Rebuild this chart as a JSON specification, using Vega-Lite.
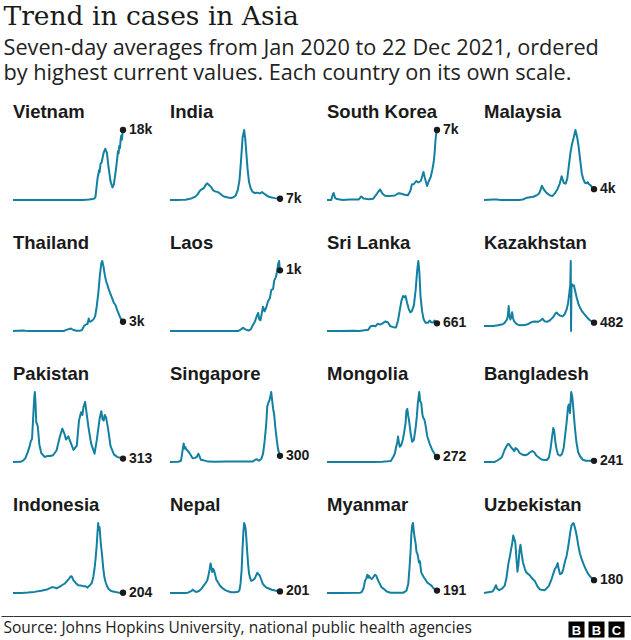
{
  "$schema": "https://vega.github.io/schema/vega-lite/v6.json",
  "background": "white",
  "padding": {"left": 0, "right": 0, "top": 4, "bottom": 0},
  "config": {"view": {"stroke": null}, "font": "Liberation Sans"},
  "title": {
    "text": "Trend in cases in Asia",
    "subtitle": ["Seven-day averages from Jan 2020 to 22 Dec 2021, ordered", "by highest current values. Each country on its own scale."],
    "anchor": "start", "dx": 3,
    "font": "DejaVu Serif", "fontSize": 26.5, "fontWeight": "normal", "color": "#1a1a1a",
    "subtitleFont": "Open Sans", "subtitleFontSize": 21.7, "subtitleColor": "#222222", "subtitleLineHeight": 25, "subtitlePadding": 7,
    "offset": 18
  },
  "datasets": {
    "cases": [
      {"c":"Vietnam","d":"2020-01-22","v":0},{"c":"Vietnam","d":"2020-03-20","v":5},{"c":"Vietnam","d":"2020-07-31","v":30},{"c":"Vietnam","d":"2020-10-15","v":5},{"c":"Vietnam","d":"2021-02-01","v":30},{"c":"Vietnam","d":"2021-04-11","v":10},{"c":"Vietnam","d":"2021-05-19","v":120},{"c":"Vietnam","d":"2021-06-12","v":250},{"c":"Vietnam","d":"2021-06-22","v":350},{"c":"Vietnam","d":"2021-06-30","v":800},{"c":"Vietnam","d":"2021-07-09","v":4200},{"c":"Vietnam","d":"2021-07-14","v":5800},{"c":"Vietnam","d":"2021-07-18","v":6500},{"c":"Vietnam","d":"2021-07-22","v":7600},{"c":"Vietnam","d":"2021-07-26","v":7100},{"c":"Vietnam","d":"2021-08-01","v":9300},{"c":"Vietnam","d":"2021-08-08","v":9600},{"c":"Vietnam","d":"2021-08-14","v":10800},{"c":"Vietnam","d":"2021-08-21","v":12100},{"c":"Vietnam","d":"2021-08-31","v":13100},{"c":"Vietnam","d":"2021-09-11","v":12000},{"c":"Vietnam","d":"2021-09-20","v":8700},{"c":"Vietnam","d":"2021-10-03","v":4900},{"c":"Vietnam","d":"2021-10-16","v":3200},{"c":"Vietnam","d":"2021-10-25","v":4000},{"c":"Vietnam","d":"2021-11-07","v":7800},{"c":"Vietnam","d":"2021-11-15","v":10500},{"c":"Vietnam","d":"2021-11-20","v":12500},{"c":"Vietnam","d":"2021-11-24","v":11900},{"c":"Vietnam","d":"2021-11-28","v":13800},{"c":"Vietnam","d":"2021-12-03","v":13300},{"c":"Vietnam","d":"2021-12-07","v":15500},{"c":"Vietnam","d":"2021-12-11","v":16500},{"c":"Vietnam","d":"2021-12-15","v":15400},{"c":"Vietnam","d":"2021-12-19","v":17000},{"c":"Vietnam","d":"2021-12-22","v":17900,"label":"18k"},
      {"c":"India","d":"2020-01-22","v":0},{"c":"India","d":"2020-03-15","v":10},{"c":"India","d":"2020-04-10","v":700},{"c":"India","d":"2020-05-01","v":2000},{"c":"India","d":"2020-05-20","v":5000},{"c":"India","d":"2020-06-10","v":10000},{"c":"India","d":"2020-07-01","v":19000},{"c":"India","d":"2020-07-15","v":30000},{"c":"India","d":"2020-07-27","v":48000},{"c":"India","d":"2020-08-10","v":60000},{"c":"India","d":"2020-08-25","v":67000},{"c":"India","d":"2020-09-05","v":85000},{"c":"India","d":"2020-09-16","v":93000},{"c":"India","d":"2020-09-28","v":82000},{"c":"India","d":"2020-10-10","v":72000},{"c":"India","d":"2020-10-25","v":52000},{"c":"India","d":"2020-11-08","v":47000},{"c":"India","d":"2020-11-22","v":44000},{"c":"India","d":"2020-12-05","v":36000},{"c":"India","d":"2020-12-20","v":25000},{"c":"India","d":"2021-01-05","v":18000},{"c":"India","d":"2021-01-25","v":14000},{"c":"India","d":"2021-02-12","v":11000},{"c":"India","d":"2021-03-01","v":15000},{"c":"India","d":"2021-03-15","v":25000},{"c":"India","d":"2021-03-28","v":55000},{"c":"India","d":"2021-04-08","v":110000},{"c":"India","d":"2021-04-18","v":220000},{"c":"India","d":"2021-04-28","v":350000},{"c":"India","d":"2021-05-08","v":391000},{"c":"India","d":"2021-05-15","v":340000},{"c":"India","d":"2021-05-22","v":260000},{"c":"India","d":"2021-05-30","v":170000},{"c":"India","d":"2021-06-08","v":100000},{"c":"India","d":"2021-06-18","v":65000},{"c":"India","d":"2021-07-01","v":45000},{"c":"India","d":"2021-07-15","v":39000},{"c":"India","d":"2021-07-30","v":41000},{"c":"India","d":"2021-08-15","v":37000},{"c":"India","d":"2021-08-30","v":44000},{"c":"India","d":"2021-09-08","v":38000},{"c":"India","d":"2021-09-25","v":27000},{"c":"India","d":"2021-10-12","v":18000},{"c":"India","d":"2021-10-30","v":14000},{"c":"India","d":"2021-11-20","v":10500},{"c":"India","d":"2021-12-05","v":8500},{"c":"India","d":"2021-12-22","v":7000,"label":"7k"},
      {"c":"South Korea","d":"2020-01-22","v":0},{"c":"South Korea","d":"2020-02-18","v":10},{"c":"South Korea","d":"2020-02-27","v":500},{"c":"South Korea","d":"2020-03-04","v":700},{"c":"South Korea","d":"2020-03-14","v":200},{"c":"South Korea","d":"2020-03-25","v":90},{"c":"South Korea","d":"2020-05-01","v":10},{"c":"South Korea","d":"2020-06-15","v":45},{"c":"South Korea","d":"2020-08-10","v":40},{"c":"South Korea","d":"2020-08-27","v":350},{"c":"South Korea","d":"2020-09-10","v":150},{"c":"South Korea","d":"2020-10-15","v":70},{"c":"South Korea","d":"2020-11-10","v":120},{"c":"South Korea","d":"2020-11-28","v":480},{"c":"South Korea","d":"2020-12-12","v":800},{"c":"South Korea","d":"2020-12-25","v":1050},{"c":"South Korea","d":"2021-01-08","v":650},{"c":"South Korea","d":"2021-01-25","v":420},{"c":"South Korea","d":"2021-02-15","v":400},{"c":"South Korea","d":"2021-03-10","v":420},{"c":"South Korea","d":"2021-03-28","v":450},{"c":"South Korea","d":"2021-04-22","v":680},{"c":"South Korea","d":"2021-05-10","v":620},{"c":"South Korea","d":"2021-05-30","v":530},{"c":"South Korea","d":"2021-06-20","v":480},{"c":"South Korea","d":"2021-07-05","v":900},{"c":"South Korea","d":"2021-07-15","v":1550},{"c":"South Korea","d":"2021-07-28","v":1600},{"c":"South Korea","d":"2021-08-12","v":1900},{"c":"South Korea","d":"2021-08-25","v":1750},{"c":"South Korea","d":"2021-09-10","v":1900},{"c":"South Korea","d":"2021-09-27","v":2800},{"c":"South Korea","d":"2021-10-06","v":2200},{"c":"South Korea","d":"2021-10-20","v":1400},{"c":"South Korea","d":"2021-10-30","v":1850},{"c":"South Korea","d":"2021-11-12","v":2300},{"c":"South Korea","d":"2021-11-22","v":3000},{"c":"South Korea","d":"2021-12-01","v":3800},{"c":"South Korea","d":"2021-12-08","v":4900},{"c":"South Korea","d":"2021-12-12","v":5900},{"c":"South Korea","d":"2021-12-16","v":6500},{"c":"South Korea","d":"2021-12-22","v":7000,"label":"7k"},
      {"c":"Malaysia","d":"2020-01-22","v":0},{"c":"Malaysia","d":"2020-03-20","v":140},{"c":"Malaysia","d":"2020-04-10","v":150},{"c":"Malaysia","d":"2020-05-10","v":40},{"c":"Malaysia","d":"2020-07-15","v":10},{"c":"Malaysia","d":"2020-09-01","v":30},{"c":"Malaysia","d":"2020-09-25","v":180},{"c":"Malaysia","d":"2020-10-15","v":650},{"c":"Malaysia","d":"2020-11-10","v":900},{"c":"Malaysia","d":"2020-12-01","v":1100},{"c":"Malaysia","d":"2020-12-20","v":1500},{"c":"Malaysia","d":"2021-01-05","v":2100},{"c":"Malaysia","d":"2021-01-15","v":3200},{"c":"Malaysia","d":"2021-01-24","v":4800},{"c":"Malaysia","d":"2021-02-10","v":3200},{"c":"Malaysia","d":"2021-02-25","v":2300},{"c":"Malaysia","d":"2021-03-15","v":1600},{"c":"Malaysia","d":"2021-04-01","v":1300},{"c":"Malaysia","d":"2021-04-18","v":2300},{"c":"Malaysia","d":"2021-05-05","v":3800},{"c":"Malaysia","d":"2021-05-18","v":5500},{"c":"Malaysia","d":"2021-05-30","v":8000},{"c":"Malaysia","d":"2021-06-12","v":5800},{"c":"Malaysia","d":"2021-06-25","v":5500},{"c":"Malaysia","d":"2021-07-05","v":7200},{"c":"Malaysia","d":"2021-07-15","v":11500},{"c":"Malaysia","d":"2021-07-25","v":15800},{"c":"Malaysia","d":"2021-08-05","v":19000},{"c":"Malaysia","d":"2021-08-15","v":21000},{"c":"Malaysia","d":"2021-08-26","v":23500},{"c":"Malaysia","d":"2021-09-06","v":21000},{"c":"Malaysia","d":"2021-09-15","v":18000},{"c":"Malaysia","d":"2021-09-25","v":13500},{"c":"Malaysia","d":"2021-10-05","v":9000},{"c":"Malaysia","d":"2021-10-15","v":7000},{"c":"Malaysia","d":"2021-10-25","v":5800},{"c":"Malaysia","d":"2021-11-05","v":5600},{"c":"Malaysia","d":"2021-11-12","v":6000},{"c":"Malaysia","d":"2021-11-20","v":5300},{"c":"Malaysia","d":"2021-12-01","v":4900},{"c":"Malaysia","d":"2021-12-10","v":4200},{"c":"Malaysia","d":"2021-12-22","v":3650,"label":"4k"},
      {"c":"Thailand","d":"2020-01-22","v":0},{"c":"Thailand","d":"2020-03-25","v":120},{"c":"Thailand","d":"2020-04-10","v":50},{"c":"Thailand","d":"2020-05-10","v":5},{"c":"Thailand","d":"2020-12-10","v":10},{"c":"Thailand","d":"2020-12-22","v":250},{"c":"Thailand","d":"2021-01-05","v":500},{"c":"Thailand","d":"2021-01-25","v":750},{"c":"Thailand","d":"2021-02-10","v":300},{"c":"Thailand","d":"2021-03-01","v":80},{"c":"Thailand","d":"2021-03-25","v":100},{"c":"Thailand","d":"2021-04-05","v":300},{"c":"Thailand","d":"2021-04-18","v":1500},{"c":"Thailand","d":"2021-04-30","v":2000},{"c":"Thailand","d":"2021-05-10","v":2100},{"c":"Thailand","d":"2021-05-18","v":3800},{"c":"Thailand","d":"2021-05-25","v":2800},{"c":"Thailand","d":"2021-06-05","v":3000},{"c":"Thailand","d":"2021-06-18","v":3600},{"c":"Thailand","d":"2021-06-28","v":4500},{"c":"Thailand","d":"2021-07-08","v":7500},{"c":"Thailand","d":"2021-07-18","v":11500},{"c":"Thailand","d":"2021-07-28","v":17000},{"c":"Thailand","d":"2021-08-06","v":20500},{"c":"Thailand","d":"2021-08-12","v":21200},{"c":"Thailand","d":"2021-08-20","v":19500},{"c":"Thailand","d":"2021-08-28","v":17000},{"c":"Thailand","d":"2021-09-06","v":15000},{"c":"Thailand","d":"2021-09-15","v":13800},{"c":"Thailand","d":"2021-09-25","v":12200},{"c":"Thailand","d":"2021-10-05","v":11000},{"c":"Thailand","d":"2021-10-15","v":9800},{"c":"Thailand","d":"2021-10-25","v":8500},{"c":"Thailand","d":"2021-11-05","v":7800},{"c":"Thailand","d":"2021-11-15","v":6300},{"c":"Thailand","d":"2021-11-25","v":5200},{"c":"Thailand","d":"2021-12-05","v":4000},{"c":"Thailand","d":"2021-12-14","v":3300},{"c":"Thailand","d":"2021-12-22","v":2800,"label":"3k"},
      {"c":"Laos","d":"2020-01-22","v":0},{"c":"Laos","d":"2021-04-01","v":0},{"c":"Laos","d":"2021-04-20","v":40},{"c":"Laos","d":"2021-05-01","v":70},{"c":"Laos","d":"2021-05-15","v":35},{"c":"Laos","d":"2021-06-05","v":10},{"c":"Laos","d":"2021-06-20","v":40},{"c":"Laos","d":"2021-07-01","v":120},{"c":"Laos","d":"2021-07-15","v":200},{"c":"Laos","d":"2021-07-25","v":300},{"c":"Laos","d":"2021-08-05","v":390},{"c":"Laos","d":"2021-08-12","v":250},{"c":"Laos","d":"2021-08-20","v":230},{"c":"Laos","d":"2021-08-28","v":380},{"c":"Laos","d":"2021-09-05","v":520},{"c":"Laos","d":"2021-09-15","v":420},{"c":"Laos","d":"2021-09-25","v":500},{"c":"Laos","d":"2021-10-06","v":630},{"c":"Laos","d":"2021-10-18","v":700},{"c":"Laos","d":"2021-10-28","v":880},{"c":"Laos","d":"2021-11-08","v":900},{"c":"Laos","d":"2021-11-15","v":1080},{"c":"Laos","d":"2021-11-25","v":1150},{"c":"Laos","d":"2021-12-02","v":1250},{"c":"Laos","d":"2021-12-10","v":1430},{"c":"Laos","d":"2021-12-16","v":1500},{"c":"Laos","d":"2021-12-22","v":1300,"label":"1k"},
      {"c":"Sri Lanka","d":"2020-01-22","v":0},{"c":"Sri Lanka","d":"2020-04-15","v":10},{"c":"Sri Lanka","d":"2020-07-10","v":20},{"c":"Sri Lanka","d":"2020-08-15","v":5},{"c":"Sri Lanka","d":"2020-10-10","v":100},{"c":"Sri Lanka","d":"2020-10-25","v":400},{"c":"Sri Lanka","d":"2020-11-10","v":450},{"c":"Sri Lanka","d":"2020-11-25","v":400},{"c":"Sri Lanka","d":"2020-12-10","v":620},{"c":"Sri Lanka","d":"2020-12-25","v":550},{"c":"Sri Lanka","d":"2021-01-10","v":650},{"c":"Sri Lanka","d":"2021-01-28","v":820},{"c":"Sri Lanka","d":"2021-02-12","v":750},{"c":"Sri Lanka","d":"2021-03-01","v":400},{"c":"Sri Lanka","d":"2021-03-20","v":330},{"c":"Sri Lanka","d":"2021-04-05","v":300},{"c":"Sri Lanka","d":"2021-04-18","v":900},{"c":"Sri Lanka","d":"2021-04-28","v":1700},{"c":"Sri Lanka","d":"2021-05-10","v":2600},{"c":"Sri Lanka","d":"2021-05-20","v":3000},{"c":"Sri Lanka","d":"2021-05-28","v":2900},{"c":"Sri Lanka","d":"2021-06-05","v":3000},{"c":"Sri Lanka","d":"2021-06-15","v":2400},{"c":"Sri Lanka","d":"2021-06-25","v":1900},{"c":"Sri Lanka","d":"2021-07-05","v":1600},{"c":"Sri Lanka","d":"2021-07-15","v":1700},{"c":"Sri Lanka","d":"2021-07-28","v":2200},{"c":"Sri Lanka","d":"2021-08-08","v":3500},{"c":"Sri Lanka","d":"2021-08-18","v":5200},{"c":"Sri Lanka","d":"2021-08-25","v":6000},{"c":"Sri Lanka","d":"2021-09-01","v":5000},{"c":"Sri Lanka","d":"2021-09-08","v":3000},{"c":"Sri Lanka","d":"2021-09-18","v":1700},{"c":"Sri Lanka","d":"2021-09-28","v":1000},{"c":"Sri Lanka","d":"2021-10-10","v":700},{"c":"Sri Lanka","d":"2021-10-25","v":700},{"c":"Sri Lanka","d":"2021-11-05","v":900},{"c":"Sri Lanka","d":"2021-11-15","v":750},{"c":"Sri Lanka","d":"2021-11-28","v":720},{"c":"Sri Lanka","d":"2021-12-06","v":900},{"c":"Sri Lanka","d":"2021-12-14","v":780},{"c":"Sri Lanka","d":"2021-12-22","v":661,"label":"661"},
      {"c":"Kazakhstan","d":"2020-01-22","v":0},{"c":"Kazakhstan","d":"2020-03-20","v":10},{"c":"Kazakhstan","d":"2020-04-20","v":100},{"c":"Kazakhstan","d":"2020-05-20","v":250},{"c":"Kazakhstan","d":"2020-06-01","v":450},{"c":"Kazakhstan","d":"2020-06-15","v":900},{"c":"Kazakhstan","d":"2020-06-22","v":1450},{"c":"Kazakhstan","d":"2020-06-27","v":2900},{"c":"Kazakhstan","d":"2020-07-03","v":1300},{"c":"Kazakhstan","d":"2020-07-08","v":950},{"c":"Kazakhstan","d":"2020-07-14","v":1300},{"c":"Kazakhstan","d":"2020-07-19","v":2000},{"c":"Kazakhstan","d":"2020-07-24","v":1200},{"c":"Kazakhstan","d":"2020-07-31","v":700},{"c":"Kazakhstan","d":"2020-08-15","v":300},{"c":"Kazakhstan","d":"2020-09-05","v":100},{"c":"Kazakhstan","d":"2020-10-06","v":130},{"c":"Kazakhstan","d":"2020-10-25","v":250},{"c":"Kazakhstan","d":"2020-11-20","v":580},{"c":"Kazakhstan","d":"2020-12-10","v":650},{"c":"Kazakhstan","d":"2021-01-01","v":600},{"c":"Kazakhstan","d":"2021-01-15","v":800},{"c":"Kazakhstan","d":"2021-01-28","v":1050},{"c":"Kazakhstan","d":"2021-02-10","v":700},{"c":"Kazakhstan","d":"2021-02-25","v":600},{"c":"Kazakhstan","d":"2021-03-15","v":800},{"c":"Kazakhstan","d":"2021-04-05","v":1250},{"c":"Kazakhstan","d":"2021-04-20","v":1800},{"c":"Kazakhstan","d":"2021-04-28","v":1950},{"c":"Kazakhstan","d":"2021-05-08","v":1700},{"c":"Kazakhstan","d":"2021-05-20","v":1500},{"c":"Kazakhstan","d":"2021-06-05","v":1400},{"c":"Kazakhstan","d":"2021-06-18","v":1700},{"c":"Kazakhstan","d":"2021-07-01","v":2400},{"c":"Kazakhstan","d":"2021-07-10","v":3300},{"c":"Kazakhstan","d":"2021-07-18","v":4800},{"c":"Kazakhstan","d":"2021-07-24","v":6000},{"c":"Kazakhstan","d":"2021-07-27","v":9400},{"c":"Kazakhstan","d":"2021-07-29","v":-720},{"c":"Kazakhstan","d":"2021-08-01","v":6100},{"c":"Kazakhstan","d":"2021-08-08","v":5800},{"c":"Kazakhstan","d":"2021-08-16","v":5900},{"c":"Kazakhstan","d":"2021-08-25","v":5000},{"c":"Kazakhstan","d":"2021-09-03","v":4100},{"c":"Kazakhstan","d":"2021-09-14","v":3200},{"c":"Kazakhstan","d":"2021-09-24","v":2650},{"c":"Kazakhstan","d":"2021-10-05","v":2200},{"c":"Kazakhstan","d":"2021-10-15","v":1900},{"c":"Kazakhstan","d":"2021-10-28","v":1550},{"c":"Kazakhstan","d":"2021-11-10","v":1200},{"c":"Kazakhstan","d":"2021-11-22","v":900},{"c":"Kazakhstan","d":"2021-12-05","v":700},{"c":"Kazakhstan","d":"2021-12-15","v":560},{"c":"Kazakhstan","d":"2021-12-22","v":482,"label":"482"},
      {"c":"Pakistan","d":"2020-01-22","v":0},{"c":"Pakistan","d":"2020-03-10","v":20},{"c":"Pakistan","d":"2020-03-28","v":150},{"c":"Pakistan","d":"2020-04-10","v":350},{"c":"Pakistan","d":"2020-04-25","v":900},{"c":"Pakistan","d":"2020-05-08","v":1500},{"c":"Pakistan","d":"2020-05-14","v":1900},{"c":"Pakistan","d":"2020-05-22","v":2100},{"c":"Pakistan","d":"2020-05-31","v":4500},{"c":"Pakistan","d":"2020-06-05","v":5800},{"c":"Pakistan","d":"2020-06-09","v":6400},{"c":"Pakistan","d":"2020-06-13","v":5500},{"c":"Pakistan","d":"2020-06-18","v":3600},{"c":"Pakistan","d":"2020-06-23","v":3500},{"c":"Pakistan","d":"2020-06-28","v":3200},{"c":"Pakistan","d":"2020-07-08","v":1550},{"c":"Pakistan","d":"2020-07-20","v":820},{"c":"Pakistan","d":"2020-08-10","v":460},{"c":"Pakistan","d":"2020-08-31","v":560},{"c":"Pakistan","d":"2020-09-15","v":550},{"c":"Pakistan","d":"2020-10-03","v":620},{"c":"Pakistan","d":"2020-10-25","v":1050},{"c":"Pakistan","d":"2020-11-15","v":2300},{"c":"Pakistan","d":"2020-12-01","v":3050},{"c":"Pakistan","d":"2020-12-14","v":2600},{"c":"Pakistan","d":"2020-12-24","v":2050},{"c":"Pakistan","d":"2021-01-08","v":2350},{"c":"Pakistan","d":"2021-01-25","v":1700},{"c":"Pakistan","d":"2021-02-10","v":1100},{"c":"Pakistan","d":"2021-03-03","v":1500},{"c":"Pakistan","d":"2021-03-17","v":3800},{"c":"Pakistan","d":"2021-03-30","v":4550},{"c":"Pakistan","d":"2021-04-08","v":4300},{"c":"Pakistan","d":"2021-04-14","v":5000},{"c":"Pakistan","d":"2021-04-25","v":5500},{"c":"Pakistan","d":"2021-05-05","v":4400},{"c":"Pakistan","d":"2021-05-16","v":3200},{"c":"Pakistan","d":"2021-06-02","v":1700},{"c":"Pakistan","d":"2021-06-24","v":760},{"c":"Pakistan","d":"2021-07-08","v":2000},{"c":"Pakistan","d":"2021-07-26","v":3950},{"c":"Pakistan","d":"2021-08-06","v":4650},{"c":"Pakistan","d":"2021-08-14","v":3900},{"c":"Pakistan","d":"2021-08-21","v":3800},{"c":"Pakistan","d":"2021-08-28","v":4300},{"c":"Pakistan","d":"2021-09-05","v":4100},{"c":"Pakistan","d":"2021-09-18","v":3050},{"c":"Pakistan","d":"2021-10-03","v":1500},{"c":"Pakistan","d":"2021-10-25","v":700},{"c":"Pakistan","d":"2021-11-15","v":470},{"c":"Pakistan","d":"2021-12-05","v":380},{"c":"Pakistan","d":"2021-12-22","v":313,"label":"313"},
      {"c":"Singapore","d":"2020-01-22","v":0},{"c":"Singapore","d":"2020-03-15","v":15},{"c":"Singapore","d":"2020-04-01","v":60},{"c":"Singapore","d":"2020-04-10","v":500},{"c":"Singapore","d":"2020-04-18","v":900},{"c":"Singapore","d":"2020-04-24","v":650},{"c":"Singapore","d":"2020-04-29","v":720},{"c":"Singapore","d":"2020-05-05","v":600},{"c":"Singapore","d":"2020-05-12","v":560},{"c":"Singapore","d":"2020-05-24","v":450},{"c":"Singapore","d":"2020-06-14","v":180},{"c":"Singapore","d":"2020-07-01","v":200},{"c":"Singapore","d":"2020-07-12","v":260},{"c":"Singapore","d":"2020-07-20","v":400},{"c":"Singapore","d":"2020-07-28","v":280},{"c":"Singapore","d":"2020-08-05","v":110},{"c":"Singapore","d":"2020-08-20","v":90},{"c":"Singapore","d":"2020-09-20","v":20},{"c":"Singapore","d":"2020-11-01","v":10},{"c":"Singapore","d":"2021-01-15","v":25},{"c":"Singapore","d":"2021-04-01","v":25},{"c":"Singapore","d":"2021-05-20","v":30},{"c":"Singapore","d":"2021-07-01","v":20},{"c":"Singapore","d":"2021-07-20","v":120},{"c":"Singapore","d":"2021-07-28","v":130},{"c":"Singapore","d":"2021-08-10","v":60},{"c":"Singapore","d":"2021-08-25","v":150},{"c":"Singapore","d":"2021-09-05","v":400},{"c":"Singapore","d":"2021-09-15","v":1000},{"c":"Singapore","d":"2021-09-25","v":1800},{"c":"Singapore","d":"2021-10-02","v":2700},{"c":"Singapore","d":"2021-10-10","v":2900},{"c":"Singapore","d":"2021-10-16","v":3000},{"c":"Singapore","d":"2021-10-22","v":3200},{"c":"Singapore","d":"2021-10-27","v":3400},{"c":"Singapore","d":"2021-11-02","v":3000},{"c":"Singapore","d":"2021-11-08","v":2600},{"c":"Singapore","d":"2021-11-15","v":2300},{"c":"Singapore","d":"2021-11-22","v":1700},{"c":"Singapore","d":"2021-12-01","v":1100},{"c":"Singapore","d":"2021-12-10","v":600},{"c":"Singapore","d":"2021-12-22","v":300,"label":"300"},
      {"c":"Mongolia","d":"2020-01-22","v":0},{"c":"Mongolia","d":"2020-11-15","v":5},{"c":"Mongolia","d":"2021-01-10","v":20},{"c":"Mongolia","d":"2021-02-10","v":40},{"c":"Mongolia","d":"2021-03-03","v":60},{"c":"Mongolia","d":"2021-03-20","v":300},{"c":"Mongolia","d":"2021-03-28","v":450},{"c":"Mongolia","d":"2021-04-08","v":900},{"c":"Mongolia","d":"2021-04-14","v":1100},{"c":"Mongolia","d":"2021-04-18","v":1380},{"c":"Mongolia","d":"2021-04-23","v":1100},{"c":"Mongolia","d":"2021-04-29","v":830},{"c":"Mongolia","d":"2021-05-09","v":920},{"c":"Mongolia","d":"2021-05-18","v":1200},{"c":"Mongolia","d":"2021-05-26","v":1560},{"c":"Mongolia","d":"2021-06-05","v":2100},{"c":"Mongolia","d":"2021-06-10","v":2750},{"c":"Mongolia","d":"2021-06-16","v":2880},{"c":"Mongolia","d":"2021-06-22","v":2500},{"c":"Mongolia","d":"2021-06-28","v":2200},{"c":"Mongolia","d":"2021-07-07","v":1560},{"c":"Mongolia","d":"2021-07-17","v":1100},{"c":"Mongolia","d":"2021-07-28","v":1200},{"c":"Mongolia","d":"2021-08-09","v":1930},{"c":"Mongolia","d":"2021-08-16","v":2500},{"c":"Mongolia","d":"2021-08-22","v":3200},{"c":"Mongolia","d":"2021-08-31","v":3800},{"c":"Mongolia","d":"2021-09-06","v":3300},{"c":"Mongolia","d":"2021-09-13","v":3200},{"c":"Mongolia","d":"2021-09-20","v":2600},{"c":"Mongolia","d":"2021-09-25","v":2400},{"c":"Mongolia","d":"2021-10-03","v":2300},{"c":"Mongolia","d":"2021-10-10","v":2000},{"c":"Mongolia","d":"2021-10-21","v":1400},{"c":"Mongolia","d":"2021-11-05","v":1000},{"c":"Mongolia","d":"2021-11-22","v":650},{"c":"Mongolia","d":"2021-12-08","v":420},{"c":"Mongolia","d":"2021-12-22","v":272,"label":"272"},
      {"c":"Bangladesh","d":"2020-01-22","v":0},{"c":"Bangladesh","d":"2020-03-30","v":20},{"c":"Bangladesh","d":"2020-04-15","v":300},{"c":"Bangladesh","d":"2020-05-01","v":600},{"c":"Bangladesh","d":"2020-05-15","v":1000},{"c":"Bangladesh","d":"2020-06-01","v":2400},{"c":"Bangladesh","d":"2020-06-12","v":3100},{"c":"Bangladesh","d":"2020-06-22","v":3600},{"c":"Bangladesh","d":"2020-07-01","v":3500},{"c":"Bangladesh","d":"2020-07-13","v":2900},{"c":"Bangladesh","d":"2020-07-25","v":2500},{"c":"Bangladesh","d":"2020-08-02","v":2200},{"c":"Bangladesh","d":"2020-08-10","v":2800},{"c":"Bangladesh","d":"2020-08-22","v":2500},{"c":"Bangladesh","d":"2020-09-05","v":1800},{"c":"Bangladesh","d":"2020-09-20","v":1500},{"c":"Bangladesh","d":"2020-10-07","v":1350},{"c":"Bangladesh","d":"2020-10-25","v":1500},{"c":"Bangladesh","d":"2020-11-08","v":1900},{"c":"Bangladesh","d":"2020-11-24","v":2200},{"c":"Bangladesh","d":"2020-12-08","v":1900},{"c":"Bangladesh","d":"2020-12-20","v":1300},{"c":"Bangladesh","d":"2021-01-05","v":900},{"c":"Bangladesh","d":"2021-01-22","v":500},{"c":"Bangladesh","d":"2021-02-10","v":380},{"c":"Bangladesh","d":"2021-02-25","v":400},{"c":"Bangladesh","d":"2021-03-10","v":900},{"c":"Bangladesh","d":"2021-03-20","v":2500},{"c":"Bangladesh","d":"2021-03-30","v":5000},{"c":"Bangladesh","d":"2021-04-07","v":6800},{"c":"Bangladesh","d":"2021-04-13","v":6200},{"c":"Bangladesh","d":"2021-04-20","v":4000},{"c":"Bangladesh","d":"2021-04-28","v":2500},{"c":"Bangladesh","d":"2021-05-07","v":1500},{"c":"Bangladesh","d":"2021-05-20","v":1250},{"c":"Bangladesh","d":"2021-06-01","v":1600},{"c":"Bangladesh","d":"2021-06-12","v":2800},{"c":"Bangladesh","d":"2021-06-22","v":5500},{"c":"Bangladesh","d":"2021-07-01","v":8000},{"c":"Bangladesh","d":"2021-07-10","v":11100},{"c":"Bangladesh","d":"2021-07-15","v":11500},{"c":"Bangladesh","d":"2021-07-22","v":9800},{"c":"Bangladesh","d":"2021-07-30","v":14000},{"c":"Bangladesh","d":"2021-08-06","v":13000},{"c":"Bangladesh","d":"2021-08-13","v":10500},{"c":"Bangladesh","d":"2021-08-22","v":7000},{"c":"Bangladesh","d":"2021-09-01","v":4000},{"c":"Bangladesh","d":"2021-09-12","v":2000},{"c":"Bangladesh","d":"2021-09-25","v":1100},{"c":"Bangladesh","d":"2021-10-12","v":450},{"c":"Bangladesh","d":"2021-11-01","v":250},{"c":"Bangladesh","d":"2021-11-20","v":230},{"c":"Bangladesh","d":"2021-12-05","v":240},{"c":"Bangladesh","d":"2021-12-22","v":241,"label":"241"},
      {"c":"Indonesia","d":"2020-01-22","v":0},{"c":"Indonesia","d":"2020-03-15","v":20},{"c":"Indonesia","d":"2020-04-25","v":350},{"c":"Indonesia","d":"2020-06-06","v":800},{"c":"Indonesia","d":"2020-07-20","v":1600},{"c":"Indonesia","d":"2020-08-31","v":2700},{"c":"Indonesia","d":"2020-09-27","v":4200},{"c":"Indonesia","d":"2020-10-12","v":4000},{"c":"Indonesia","d":"2020-10-25","v":3300},{"c":"Indonesia","d":"2020-11-15","v":4500},{"c":"Indonesia","d":"2020-12-01","v":5700},{"c":"Indonesia","d":"2020-12-17","v":6800},{"c":"Indonesia","d":"2021-01-08","v":9500},{"c":"Indonesia","d":"2021-01-23","v":12000},{"c":"Indonesia","d":"2021-01-30","v":11800},{"c":"Indonesia","d":"2021-02-10","v":9000},{"c":"Indonesia","d":"2021-02-25","v":7000},{"c":"Indonesia","d":"2021-03-12","v":5600},{"c":"Indonesia","d":"2021-03-28","v":5300},{"c":"Indonesia","d":"2021-04-14","v":4900},{"c":"Indonesia","d":"2021-04-28","v":4800},{"c":"Indonesia","d":"2021-05-10","v":3800},{"c":"Indonesia","d":"2021-05-18","v":4800},{"c":"Indonesia","d":"2021-05-26","v":5600},{"c":"Indonesia","d":"2021-06-06","v":7000},{"c":"Indonesia","d":"2021-06-16","v":11500},{"c":"Indonesia","d":"2021-06-24","v":17500},{"c":"Indonesia","d":"2021-07-01","v":25000},{"c":"Indonesia","d":"2021-07-07","v":33000},{"c":"Indonesia","d":"2021-07-12","v":42000},{"c":"Indonesia","d":"2021-07-17","v":50000},{"c":"Indonesia","d":"2021-07-21","v":45000},{"c":"Indonesia","d":"2021-07-26","v":47000},{"c":"Indonesia","d":"2021-08-03","v":35000},{"c":"Indonesia","d":"2021-08-10","v":28000},{"c":"Indonesia","d":"2021-08-18","v":18000},{"c":"Indonesia","d":"2021-08-26","v":11000},{"c":"Indonesia","d":"2021-09-03","v":7500},{"c":"Indonesia","d":"2021-09-12","v":4800},{"c":"Indonesia","d":"2021-09-20","v":3000},{"c":"Indonesia","d":"2021-10-05","v":1600},{"c":"Indonesia","d":"2021-10-20","v":1000},{"c":"Indonesia","d":"2021-11-05","v":650},{"c":"Indonesia","d":"2021-11-20","v":430},{"c":"Indonesia","d":"2021-12-05","v":250},{"c":"Indonesia","d":"2021-12-22","v":204,"label":"204"},
      {"c":"Nepal","d":"2020-01-22","v":0},{"c":"Nepal","d":"2020-04-20","v":5},{"c":"Nepal","d":"2020-05-15","v":40},{"c":"Nepal","d":"2020-06-05","v":250},{"c":"Nepal","d":"2020-06-15","v":430},{"c":"Nepal","d":"2020-06-25","v":250},{"c":"Nepal","d":"2020-07-06","v":130},{"c":"Nepal","d":"2020-07-25","v":250},{"c":"Nepal","d":"2020-08-07","v":500},{"c":"Nepal","d":"2020-08-20","v":850},{"c":"Nepal","d":"2020-09-02","v":1200},{"c":"Nepal","d":"2020-09-15","v":1600},{"c":"Nepal","d":"2020-09-23","v":2300},{"c":"Nepal","d":"2020-09-30","v":3000},{"c":"Nepal","d":"2020-10-06","v":3800},{"c":"Nepal","d":"2020-10-11","v":3300},{"c":"Nepal","d":"2020-10-17","v":2700},{"c":"Nepal","d":"2020-10-23","v":3100},{"c":"Nepal","d":"2020-10-28","v":2900},{"c":"Nepal","d":"2020-11-05","v":2300},{"c":"Nepal","d":"2020-11-12","v":1700},{"c":"Nepal","d":"2020-11-22","v":1400},{"c":"Nepal","d":"2020-12-03","v":1000},{"c":"Nepal","d":"2020-12-20","v":650},{"c":"Nepal","d":"2021-01-05","v":400},{"c":"Nepal","d":"2021-01-25","v":220},{"c":"Nepal","d":"2021-02-15","v":100},{"c":"Nepal","d":"2021-03-10","v":90},{"c":"Nepal","d":"2021-03-30","v":150},{"c":"Nepal","d":"2021-04-08","v":350},{"c":"Nepal","d":"2021-04-15","v":1200},{"c":"Nepal","d":"2021-04-22","v":3000},{"c":"Nepal","d":"2021-04-27","v":5500},{"c":"Nepal","d":"2021-05-03","v":7800},{"c":"Nepal","d":"2021-05-08","v":9000},{"c":"Nepal","d":"2021-05-13","v":8700},{"c":"Nepal","d":"2021-05-17","v":8300},{"c":"Nepal","d":"2021-05-22","v":7000},{"c":"Nepal","d":"2021-05-27","v":5400},{"c":"Nepal","d":"2021-06-02","v":3700},{"c":"Nepal","d":"2021-06-08","v":2500},{"c":"Nepal","d":"2021-06-15","v":1900},{"c":"Nepal","d":"2021-06-22","v":1550},{"c":"Nepal","d":"2021-07-03","v":1650},{"c":"Nepal","d":"2021-07-14","v":1850},{"c":"Nepal","d":"2021-07-22","v":2200},{"c":"Nepal","d":"2021-07-31","v":2600},{"c":"Nepal","d":"2021-08-07","v":2400},{"c":"Nepal","d":"2021-08-15","v":2250},{"c":"Nepal","d":"2021-08-25","v":1700},{"c":"Nepal","d":"2021-09-03","v":1200},{"c":"Nepal","d":"2021-09-15","v":900},{"c":"Nepal","d":"2021-09-28","v":680},{"c":"Nepal","d":"2021-10-15","v":550},{"c":"Nepal","d":"2021-10-30","v":420},{"c":"Nepal","d":"2021-11-20","v":330},{"c":"Nepal","d":"2021-12-05","v":260},{"c":"Nepal","d":"2021-12-22","v":201,"label":"201"},
      {"c":"Myanmar","d":"2020-01-22","v":0},{"c":"Myanmar","d":"2020-04-15","v":5},{"c":"Myanmar","d":"2020-08-20","v":10},{"c":"Myanmar","d":"2020-08-31","v":100},{"c":"Myanmar","d":"2020-09-10","v":350},{"c":"Myanmar","d":"2020-09-20","v":950},{"c":"Myanmar","d":"2020-09-28","v":1150},{"c":"Myanmar","d":"2020-10-05","v":1430},{"c":"Myanmar","d":"2020-10-10","v":1200},{"c":"Myanmar","d":"2020-10-15","v":1350},{"c":"Myanmar","d":"2020-10-22","v":1200},{"c":"Myanmar","d":"2020-11-01","v":1100},{"c":"Myanmar","d":"2020-11-12","v":1250},{"c":"Myanmar","d":"2020-11-22","v":1430},{"c":"Myanmar","d":"2020-12-01","v":1350},{"c":"Myanmar","d":"2020-12-08","v":1100},{"c":"Myanmar","d":"2020-12-20","v":800},{"c":"Myanmar","d":"2021-01-03","v":450},{"c":"Myanmar","d":"2021-01-20","v":300},{"c":"Myanmar","d":"2021-02-05","v":120},{"c":"Myanmar","d":"2021-03-01","v":20},{"c":"Myanmar","d":"2021-04-18","v":10},{"c":"Myanmar","d":"2021-05-20","v":20},{"c":"Myanmar","d":"2021-06-10","v":160},{"c":"Myanmar","d":"2021-06-22","v":700},{"c":"Myanmar","d":"2021-07-01","v":2140},{"c":"Myanmar","d":"2021-07-07","v":3300},{"c":"Myanmar","d":"2021-07-12","v":4650},{"c":"Myanmar","d":"2021-07-17","v":5300},{"c":"Myanmar","d":"2021-07-22","v":5500},{"c":"Myanmar","d":"2021-07-27","v":4900},{"c":"Myanmar","d":"2021-08-01","v":4400},{"c":"Myanmar","d":"2021-08-08","v":3900},{"c":"Myanmar","d":"2021-08-14","v":3200},{"c":"Myanmar","d":"2021-08-19","v":3100},{"c":"Myanmar","d":"2021-08-24","v":2800},{"c":"Myanmar","d":"2021-08-29","v":2400},{"c":"Myanmar","d":"2021-09-04","v":2500},{"c":"Myanmar","d":"2021-09-13","v":1600},{"c":"Myanmar","d":"2021-09-22","v":1400},{"c":"Myanmar","d":"2021-09-30","v":1220},{"c":"Myanmar","d":"2021-10-10","v":1050},{"c":"Myanmar","d":"2021-10-21","v":820},{"c":"Myanmar","d":"2021-11-05","v":690},{"c":"Myanmar","d":"2021-11-15","v":600},{"c":"Myanmar","d":"2021-11-27","v":420},{"c":"Myanmar","d":"2021-12-10","v":280},{"c":"Myanmar","d":"2021-12-22","v":191,"label":"191"},
      {"c":"Uzbekistan","d":"2020-01-22","v":0},{"c":"Uzbekistan","d":"2020-03-17","v":20},{"c":"Uzbekistan","d":"2020-03-28","v":60},{"c":"Uzbekistan","d":"2020-04-07","v":110},{"c":"Uzbekistan","d":"2020-04-15","v":60},{"c":"Uzbekistan","d":"2020-04-28","v":40},{"c":"Uzbekistan","d":"2020-05-15","v":60},{"c":"Uzbekistan","d":"2020-06-01","v":100},{"c":"Uzbekistan","d":"2020-06-12","v":200},{"c":"Uzbekistan","d":"2020-06-25","v":410},{"c":"Uzbekistan","d":"2020-07-05","v":520},{"c":"Uzbekistan","d":"2020-07-13","v":620},{"c":"Uzbekistan","d":"2020-07-20","v":700},{"c":"Uzbekistan","d":"2020-07-26","v":810},{"c":"Uzbekistan","d":"2020-08-02","v":760},{"c":"Uzbekistan","d":"2020-08-08","v":715},{"c":"Uzbekistan","d":"2020-08-15","v":500},{"c":"Uzbekistan","d":"2020-08-22","v":300},{"c":"Uzbekistan","d":"2020-08-28","v":400},{"c":"Uzbekistan","d":"2020-09-04","v":600},{"c":"Uzbekistan","d":"2020-09-10","v":680},{"c":"Uzbekistan","d":"2020-09-17","v":560},{"c":"Uzbekistan","d":"2020-09-26","v":430},{"c":"Uzbekistan","d":"2020-10-08","v":340},{"c":"Uzbekistan","d":"2020-10-17","v":290},{"c":"Uzbekistan","d":"2020-11-08","v":250},{"c":"Uzbekistan","d":"2020-11-25","v":200},{"c":"Uzbekistan","d":"2020-12-10","v":170},{"c":"Uzbekistan","d":"2020-12-28","v":90},{"c":"Uzbekistan","d":"2021-01-11","v":50},{"c":"Uzbekistan","d":"2021-02-12","v":40},{"c":"Uzbekistan","d":"2021-03-10","v":100},{"c":"Uzbekistan","d":"2021-03-27","v":195},{"c":"Uzbekistan","d":"2021-04-17","v":340},{"c":"Uzbekistan","d":"2021-04-25","v":360},{"c":"Uzbekistan","d":"2021-05-05","v":420},{"c":"Uzbekistan","d":"2021-05-12","v":330},{"c":"Uzbekistan","d":"2021-05-20","v":265},{"c":"Uzbekistan","d":"2021-06-01","v":280},{"c":"Uzbekistan","d":"2021-06-10","v":340},{"c":"Uzbekistan","d":"2021-06-20","v":440},{"c":"Uzbekistan","d":"2021-07-01","v":525},{"c":"Uzbekistan","d":"2021-07-10","v":640},{"c":"Uzbekistan","d":"2021-07-18","v":760},{"c":"Uzbekistan","d":"2021-07-25","v":870},{"c":"Uzbekistan","d":"2021-08-01","v":950},{"c":"Uzbekistan","d":"2021-08-08","v":975},{"c":"Uzbekistan","d":"2021-08-14","v":985},{"c":"Uzbekistan","d":"2021-08-20","v":940},{"c":"Uzbekistan","d":"2021-08-27","v":880},{"c":"Uzbekistan","d":"2021-09-05","v":780},{"c":"Uzbekistan","d":"2021-09-13","v":670},{"c":"Uzbekistan","d":"2021-09-23","v":560},{"c":"Uzbekistan","d":"2021-10-04","v":480},{"c":"Uzbekistan","d":"2021-10-14","v":420},{"c":"Uzbekistan","d":"2021-10-25","v":360},{"c":"Uzbekistan","d":"2021-11-05","v":310},{"c":"Uzbekistan","d":"2021-11-16","v":265},{"c":"Uzbekistan","d":"2021-12-02","v":220},{"c":"Uzbekistan","d":"2021-12-12","v":200},{"c":"Uzbekistan","d":"2021-12-22","v":180,"label":"180"}
    ]
  },
  "vconcat": [
    {
      "data": {"name": "cases"},
      "facet": {
        "field": "c", "type": "nominal",
        "sort": ["Vietnam","India","South Korea","Malaysia","Thailand","Laos","Sri Lanka","Kazakhstan","Pakistan","Singapore","Mongolia","Bangladesh","Indonesia","Nepal","Myanmar","Uzbekistan"],
        "header": {"title": null, "labelAnchor": "start", "labelAlign": "left", "labelBaseline": "alphabetic", "labelFont": "Liberation Sans", "labelFontSize": 18.5, "labelFontWeight": "bold", "labelColor": "#1a1a1a", "labelPadding": -14}
      },
      "columns": 4,
      "spacing": {"column": 47, "row": 61},
      "bounds": "flush",
      "resolve": {"scale": {"y": "independent"}},
      "spec": {
        "width": 110,
        "height": 70,
        "layer": [
          {
            "mark": {"type": "line", "color": "#1380a1", "strokeWidth": 2, "strokeJoin": "round"},
            "encoding": {
              "x": {"field": "d", "type": "temporal", "scale": {"domain": [{"year": 2020, "month": 1, "date": 22}, {"year": 2021, "month": 12, "date": 22}]}, "axis": null},
              "y": {"field": "v", "type": "quantitative", "scale": {"zero": true, "nice": false}, "axis": {"labels": false, "ticks": false, "domain": false, "grid": false, "title": "\u00a0", "titleX": 111, "titleY": -8, "titleAngle": 0, "titleAlign": "left", "titleBaseline": "top", "titleFontSize": 8, "titleColor": "transparent", "minExtent": 12, "maxExtent": 12}}
            }
          },
          {
            "transform": [{"filter": "isValid(datum.label)"}],
            "mark": {"type": "circle", "size": 40, "color": "#1a1a1a", "opacity": 1},
            "encoding": {
              "x": {"field": "d", "type": "temporal"},
              "y": {"field": "v", "type": "quantitative"}
            }
          },
          {
            "transform": [{"filter": "isValid(datum.label)"}],
            "mark": {"type": "text", "align": "left", "baseline": "middle", "dx": 6, "font": "Liberation Sans", "fontSize": 14, "fontWeight": "bold", "color": "#1a1a1a"},
            "encoding": {
              "x": {"field": "d", "type": "temporal"},
              "y": {"field": "v", "type": "quantitative"},
              "text": {"field": "label"}
            }
          }
        ]
      }
    },
    {
      "width": 619,
      "height": 27,
      "data": {"values": [{"letter": "B", "pos": 1}, {"letter": "B", "pos": 2}, {"letter": "C", "pos": 3}]},
      "title": {"text": "Source: Johns Hopkins University, national public health agencies", "orient": "bottom", "anchor": "start", "baseline": "alphabetic", "offset": -10, "dx": 3, "font": "Open Sans", "fontSize": 15.5, "fontWeight": "normal", "color": "#222222"},
      "layer": [
        {
          "mark": {"type": "square", "size": 256, "color": "#000000", "opacity": 1},
          "encoding": {
            "x": {"field": "pos", "type": "quantitative", "scale": {"domain": [-27.175, 3.775], "zero": false, "nice": false}, "axis": {"orient": "top", "labels": false, "ticks": false, "grid": false, "title": null, "domainColor": "#333333", "domainWidth": 1}},
            "y": {"datum": 0, "type": "quantitative", "scale": {"domain": [-1, 1]}, "axis": {"values": [1], "labels": false, "domain": false, "grid": false, "ticks": true, "tickSize": 12, "tickColor": "#333333", "tickWidth": 1, "title": null, "minExtent": 12, "maxExtent": 12}}
          }
        },
        {
          "mark": {"type": "text", "color": "white", "font": "Liberation Sans", "fontSize": 13, "fontWeight": "bold", "baseline": "middle", "dy": 1},
          "encoding": {
            "x": {"field": "pos", "type": "quantitative"},
            "y": {"datum": 0, "type": "quantitative"},
            "text": {"field": "letter"}
          }
        }
      ]
    }
  ],
  "spacing": 15
}
